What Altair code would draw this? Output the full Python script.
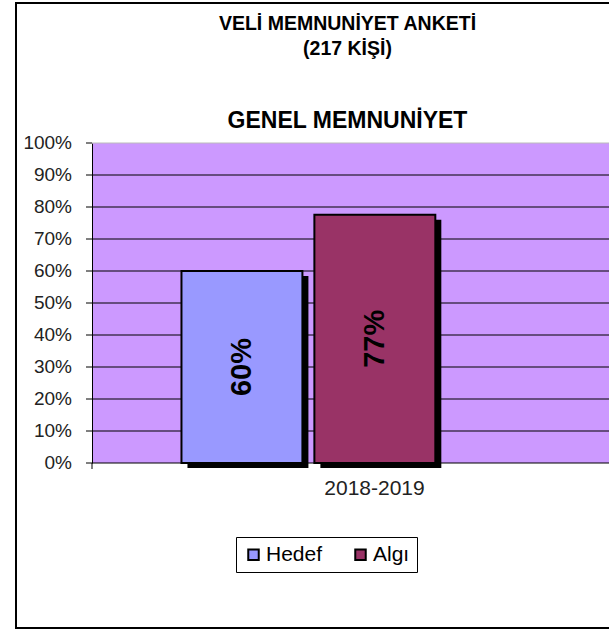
import altair as alt
import pandas as pd

# ---- data ----
series = ["Hedef", "Algı"]
values = [0.60, 0.776]
value_labels = ["60%", "77%"]
period = "2018-2019"
colors = ["#9999FF", "#993366"]
y_ticks = [0.0, 0.1, 0.2, 0.3, 0.4, 0.5, 0.6, 0.7, 0.8, 0.9, 1.0]
y_tick_labels = ["0%", "10%", "20%", "30%", "40%", "50%", "60%", "70%", "80%", "90%", "100%"]
title_lines = ["VELİ MEMNUNİYET ANKETİ", "(217 KİŞİ)"]
subtitle_text = "GENEL MEMNUNİYET"

df = pd.DataFrame({"series": series, "value": values, "label": value_labels})
df["mid"] = df["value"] / 2
ticks_df = pd.DataFrame({"tick": y_ticks, "tick_label": y_tick_labels})

FONT = "Liberation Sans"

x_enc = alt.X(
    "series:N",
    sort=series,
    scale=alt.Scale(paddingInner=0.09, paddingOuter=0.99, align=0.34),
    axis=alt.Axis(
        labels=False, ticks=False, domain=False, grid=False, title=period,
        titleX=282, titleY=31, titleBaseline="alphabetic", titleAnchor="start",
        titleAlign="center", titleFont=FONT, titleFontSize=21,
        titleFontWeight="normal", titleColor="#222222",
    ),
)
y_scale = alt.Scale(domain=[0, 1], nice=False)
y_axis = alt.Axis(
    title=None, grid=False, labels=False, ticks=False, domain=True,
    domainColor="#000000", domainWidth=1,
)
color_enc = alt.Color(
    "series:N",
    sort=series,
    scale=alt.Scale(domain=series, range=colors),
    legend=alt.Legend(
        title=None, orient="none", legendX=144, legendY=394, direction="horizontal",
        strokeColor="#000000", padding=7, fillColor="#ffffff",
        symbolType="square", symbolSize=110, symbolStrokeColor="#000000",
        symbolStrokeWidth=2, labelFont=FONT, labelFontSize=21, labelColor="#000000",
        labelOffset=2, columnPadding=27,
    ),
)

base = alt.Chart(df)
tick_base = alt.Chart(ticks_df)

grid = tick_base.mark_rule(strokeWidth=1.2).encode(
    y=alt.Y("tick:Q", scale=y_scale, axis=y_axis),
    x=alt.value(0),
    x2=alt.value(517),
    color=alt.condition("datum.tick == 1", alt.value("#bbbbbb"), alt.value("#000000")),
)
tick_marks = tick_base.mark_rule(strokeWidth=1, color="#000000").encode(
    y=alt.Y("tick:Q", scale=y_scale, axis=y_axis),
    x=alt.value(-6),
    x2=alt.value(0),
)
tick_text = tick_base.mark_text(
    align="right", baseline="middle", font=FONT, fontSize=19, color="#222222"
).encode(
    y=alt.Y("tick:Q", scale=y_scale, axis=y_axis),
    x=alt.value(-20),
    text="tick_label:N",
)

shadow = base.mark_bar(
    color="#000000", xOffset=6, x2Offset=6, yOffset=5, y2Offset=-5
).encode(x=x_enc, y=alt.Y("value:Q", scale=y_scale, axis=y_axis))
bars = base.mark_bar(stroke="#000000", strokeWidth=2).encode(
    x=x_enc, y=alt.Y("value:Q", scale=y_scale, axis=y_axis), color=color_enc
)
texts = base.mark_text(
    angle=270, align="center", baseline="middle", font=FONT, fontSize=29,
    fontWeight="bold", color="#000000",
).encode(x=x_enc, y=alt.Y("mid:Q", scale=y_scale, axis=y_axis), text="label:N")

one = pd.DataFrame({"k": [0]})
frame_left = alt.Chart(one).mark_rule(color="#000000", strokeWidth=2).encode(
    x=alt.value(-76), y=alt.value(-140), y2=alt.value(485)
)
frame_top = alt.Chart(one).mark_rule(color="#000000", strokeWidth=2).encode(
    x=alt.value(-77), x2=alt.value(517), y=alt.value(-140)
)
frame_bottom = alt.Chart(one).mark_rule(color="#000000", strokeWidth=2).encode(
    x=alt.value(-77), x2=alt.value(517), y=alt.value(485)
)
axis_stub = alt.Chart(one).mark_rule(color="#000000", strokeWidth=1).encode(
    x=alt.value(0), y=alt.value(320), y2=alt.value(326)
)

chart = alt.layer(
    frame_left, frame_top, frame_bottom, grid, shadow, bars, texts,
    tick_marks, tick_text, axis_stub,
).properties(
    width=517,
    height=320,
    autosize=alt.AutoSizeParams(type="none"),
    padding={"left": 92, "top": 143, "right": 0, "bottom": 167},
    background="#ffffff",
    title=alt.TitleParams(
        text=title_lines,
        subtitle=subtitle_text,
        anchor="middle",
        frame="group",
        dx=-3,
        font=FONT,
        fontSize=19.5,
        fontWeight="bold",
        lineHeight=25,
        color="#000000",
        subtitleFont=FONT,
        subtitleFontSize=23,
        subtitleFontWeight="bold",
        subtitleColor="#000000",
        subtitlePadding=51,
        offset=-132,
    ),
).configure_view(fill="#CC99FF", stroke=None)

chart.save("out.html", embed_options={"renderer": "svg", "actions": False})
